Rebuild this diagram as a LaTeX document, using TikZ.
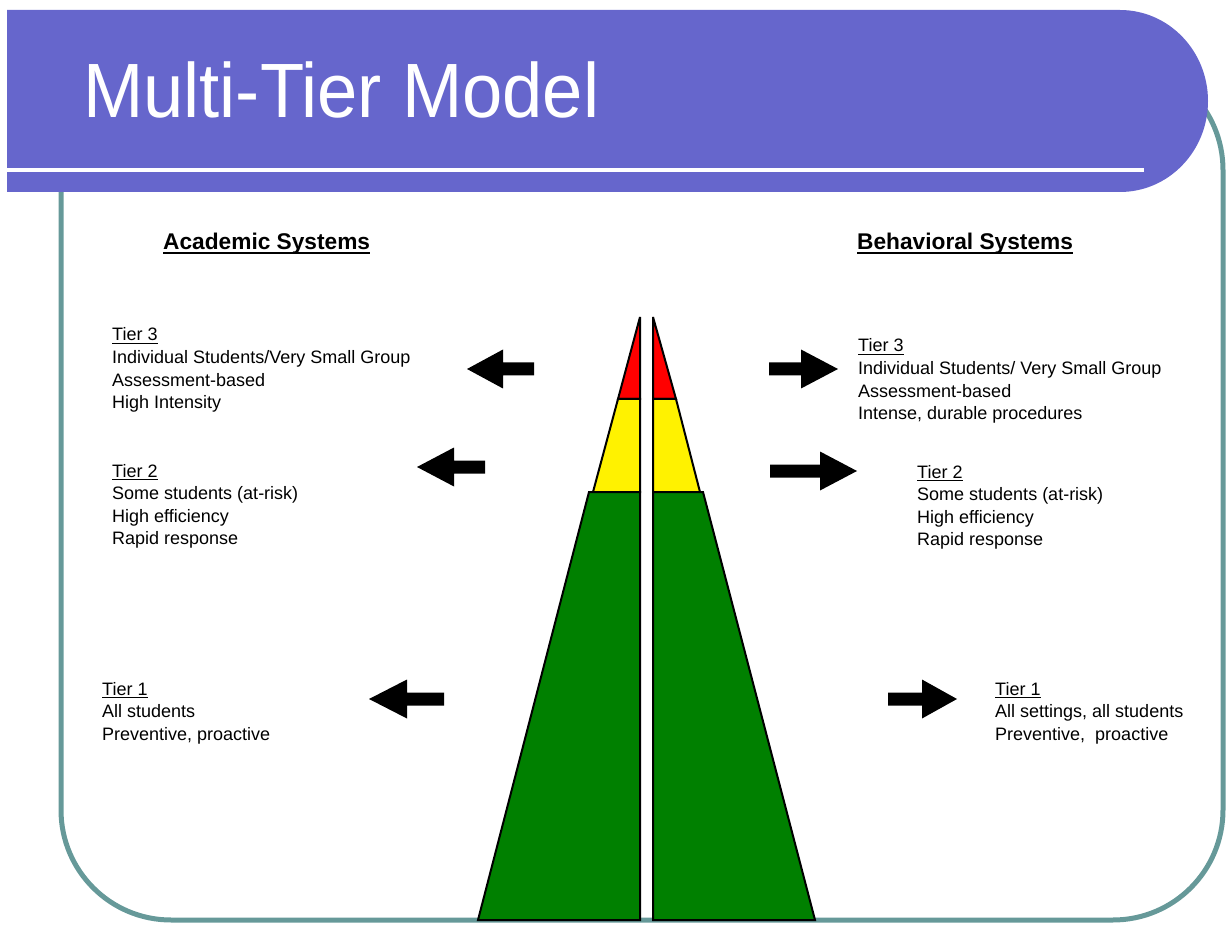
\documentclass[tikz,border=0pt]{standalone}
\usepackage{fontspec}
\setmainfont{Liberation Sans}
\definecolor{titlebar}{RGB}{102,102,204}
\definecolor{frameteal}{RGB}{102,153,153}
\definecolor{tiergreen}{RGB}{0,128,0}
\newcommand{\tiername}[1]{\setbox0\hbox{#1}\rlap{\rule[-3pt]{\wd0}{1.2pt}}\box0}
\newcommand{\headline}[1]{\setbox0\hbox{#1}\rlap{\rule[-4.5pt]{\wd0}{2pt}}\box0}
% tail, head base, tip, y
\newcommand{\blockarrow}[4]{\fill (#1,#4-6.5) -- (#2,#4-6.5) -- (#2,#4-19.5) -- (#3,#4) -- (#2,#4+19.5) -- (#2,#4+6.5) -- (#1,#4+6.5) -- cycle;}
\tikzset{
  tiertext/.style={anchor=base west, align=left, inner sep=0pt, font=\fontsize{18}{22.6}\selectfont},
  heading/.style={anchor=base west, inner sep=0pt, font=\fontsize{22.7}{26}\selectfont\bfseries},
  tierpiece/.style={draw=black, line width=2pt, line join=miter, miter limit=4}
}
\begin{document}
\begin{tikzpicture}[x=1pt, y=-1pt]
        \useasboundingbox (0,0) rectangle (1227,925);
        \draw[frameteal, line width=5pt, rounded corners=110pt] (61,60) rectangle (1223,920);
        \fill[titlebar] (7,10) -- (1120,10) arc[start angle=-90, end angle=90, x radius=88, y radius=91] -- (7,192) -- cycle;
        \fill[white] (7,168) rectangle (1144,172);
        \node[anchor=base west, inner sep=0pt, text=white, font=\fontsize{77}{80}\selectfont] (title) at (83,118) {\scalebox{0.94}[1]{Multi-Tier Model}};

        \node[heading] (acad) at (163,250) {\headline{Academic Systems}};
        \node[heading] (behav) at (857,250) {\headline{Behavioral Systems}};

        % pyramid, left half
        \filldraw[tierpiece, fill=red] (640,317) -- (640,399) -- (618,399) -- cycle;
        \filldraw[tierpiece, fill=yellow] (618,399) -- (640,399) -- (640,492) -- (593,492) -- cycle;
        \filldraw[tierpiece, fill=tiergreen] (589,492) -- (640,492) -- (640,920) -- (478,920) -- cycle;
        % pyramid, right half
        \filldraw[tierpiece, fill=red] (653,317) -- (653,399) -- (676,399) -- cycle;
        \filldraw[tierpiece, fill=yellow] (676,399) -- (653,399) -- (653,492) -- (700,492) -- cycle;
        \filldraw[tierpiece, fill=tiergreen] (703,492) -- (653,492) -- (653,920) -- (815,920) -- cycle;

        \blockarrow{534}{503}{467}{369}
        \blockarrow{485}{454}{417}{467}
        \blockarrow{444}{407}{369}{699}
        \blockarrow{769}{801}{838}{369}
        \blockarrow{770}{820}{857}{471}
        \blockarrow{888}{922}{957}{699}

        % last baseline of each block
        \node[tiertext] (acadthree) at (112,408.8) {\tiername{Tier 3}\\Individual Students/Very Small Group\\Assessment-based\\High Intensity};
        \node[tiertext] (acadtwo) at (112,544.8) {\tiername{Tier 2}\\Some students (at-risk)\\High efficiency\\Rapid response};
        \node[tiertext] (acadone) at (102,740.2) {\tiername{Tier 1}\\All students\\Preventive, proactive};
        \node[tiertext] (behavthree) at (858,419.8) {\tiername{Tier 3}\\Individual Students/ Very Small Group\\Assessment-based\\Intense, durable procedures};
        \node[tiertext] (behavtwo) at (917,545.8) {\tiername{Tier 2}\\Some students (at-risk)\\High efficiency\\Rapid response};
        \node[tiertext] (behavone) at (995,740.2) {\tiername{Tier 1}\\All settings, all students\\Preventive,\ \ proactive};
    \end{tikzpicture}
\end{document}
